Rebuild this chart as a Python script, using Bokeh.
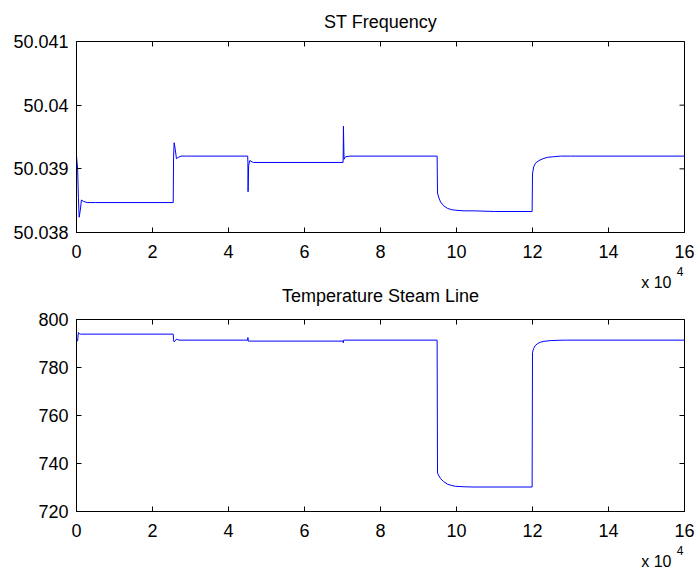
import math
from bokeh.plotting import figure
from bokeh.layouts import column
from bokeh.models import FixedTicker, CustomJSTickFormatter, Range1d, Title
from bokeh.embed import file_html
from bokeh.resources import INLINE

# ---------------- data (time in units of 10^4) ----------------
freq_time = [0.0, 0.03, 0.05, 0.07, 0.10, 0.13, 0.18, 0.28, 0.5, 2.545,
             2.555, 2.57, 2.60, 2.63, 2.68, 2.75, 2.9, 4.505,
             4.51, 4.515, 4.53, 4.56, 4.65, 7.015,
             7.02, 7.025, 7.04, 7.08, 7.2, 9.49,
             9.50, 9.54, 9.58, 9.66, 9.76, 9.86, 9.97, 10.2, 10.46, 11.0, 11.99,
             12.0, 12.03, 12.08, 12.17, 12.28, 12.39, 12.55, 12.74, 13.0, 16.0]
freq_value = [50.0392, 50.0390, 50.03855, 50.03824, 50.03835, 50.03851, 50.03849, 50.03847, 50.03847, 50.03847,
              50.0392, 50.03941, 50.0393, 50.03916, 50.03918, 50.0392, 50.0392, 50.0392,
              50.0391, 50.03864, 50.03905, 50.03913, 50.0391, 50.0391,
              50.0393, 50.03967, 50.03915, 50.03919, 50.0392, 50.0392,
              50.03862, 50.03854, 50.03848, 50.03842, 50.03838, 50.03836, 50.03835, 50.03834, 50.03834, 50.03833, 50.03833,
              50.03892, 50.03903, 50.03909, 50.03913, 50.03916, 50.03918, 50.03919, 50.0392, 50.0392, 50.0392]

temp_time = [0.0, 0.03, 0.05, 0.08, 0.1, 2.545,
             2.555, 2.57, 2.63, 2.7, 4.505,
             4.51, 4.52, 4.55, 7.015,
             7.02, 7.03, 7.06, 9.49,
             9.50, 9.54, 9.58, 9.66, 9.76, 9.86, 9.97, 10.2, 10.46, 11.99,
             12.0, 12.03, 12.07, 12.13, 12.2, 12.3, 12.47, 12.7, 12.9, 16.0]
temp_value = [791.1, 791.1, 794.6, 794.0, 793.9, 793.9,
              791.5, 790.7, 791.8, 791.4, 791.4,
              792.5, 791.0, 791.0, 791.0,
              790.3, 791.4, 791.4, 791.4,
              736.0, 734.8, 733.7, 732.5, 731.4, 730.9, 730.5, 730.3, 730.2, 730.2,
              786.3, 787.9, 789.1, 789.9, 790.5, 790.9, 791.2, 791.35, 791.4, 791.4]

x_ticks = [0, 2, 4, 6, 8, 10, 12, 14, 16]
freq_ticks = [50.038, 50.039, 50.040, 50.041]
temp_ticks = [720, 740, 760, 780, 800]
x_lo, x_hi = 0, 16
scale_base = "x 10"
scale_exp = "4"
title_top = "ST Frequency"
title_bottom = "Temperature Steam Line"

FONT = "Liberation Sans"


def make_panel(xs, ys, y_ticks, y_lo, y_hi, height, top, bottom):
    p = figure(width=697, height=height, output_backend="svg", toolbar_location=None,
               x_range=Range1d(x_lo, x_hi), y_range=Range1d(y_lo, y_hi),
               min_border_left=76, min_border_right=13,
               min_border_top=top, min_border_bottom=bottom)
    p.grid.visible = False
    p.outline_line_color = "black"
    p.outline_line_width = 1
    p.background_fill_color = "white"
    p.border_fill_color = "white"

    for ax in p.xaxis + p.yaxis:
        ax.major_tick_in = 5
        ax.major_tick_out = 0
        ax.minor_tick_line_color = None
        ax.major_label_text_font = FONT
        ax.major_label_text_font_size = "18px"
        ax.major_label_text_color = "black"
        ax.axis_line_color = "black"
        ax.major_tick_line_color = "black"
    p.xaxis.major_label_standoff = 12
    p.yaxis.major_label_standoff = 8
    p.xaxis.ticker = FixedTicker(ticks=x_ticks)
    p.yaxis.ticker = FixedTicker(ticks=y_ticks)
    p.yaxis.formatter = CustomJSTickFormatter(code="return String(Math.round(tick*1000)/1000);")

    # inward ticks on the top and right edges (half of each dash is clipped by the frame)
    p.scatter(x_ticks, [y_hi] * len(x_ticks), marker="dash", size=10, angle=math.pi / 2,
              line_color="black", line_width=1)
    p.scatter([x_hi] * len(y_ticks), y_ticks, marker="dash", size=10,
              line_color="black", line_width=1)

    p.line(xs, ys, line_color="#0000ff", line_width=1)

    # "x 10^4" scale note: exponent first (nearer the axis), base below it, overlapping
    p.add_layout(Title(text=scale_exp, align="right", offset=1, standoff=8,
                       text_font=FONT, text_font_size="12px", text_font_style="normal",
                       text_color="black"), "below")
    p.add_layout(Title(text=scale_base, align="right", offset=13, standoff=-16,
                       text_font=FONT, text_font_size="16px", text_font_style="normal",
                       text_color="black"), "below")
    return p


def title_obj(text, standoff):
    return Title(text=text, align="center", standoff=standoff, text_font=FONT,
                 text_font_size="18px", text_font_style="normal", text_color="black")


p1 = make_panel(freq_time, freq_value, freq_ticks, 50.038, 50.041, 311, 41, 79)
p1.title = title_obj(title_top, 19)
# the lower panel's heading sits in the gap between the two panels
p1.add_layout(title_obj(title_bottom, 2), "below")

p2 = make_panel(temp_time, temp_value, temp_ticks, 720, 800, 263, 8, 63)
p2.title.text = ""

layout = column(p1, p2, spacing=0)
open("out.html", "w").write(file_html(layout, INLINE))
